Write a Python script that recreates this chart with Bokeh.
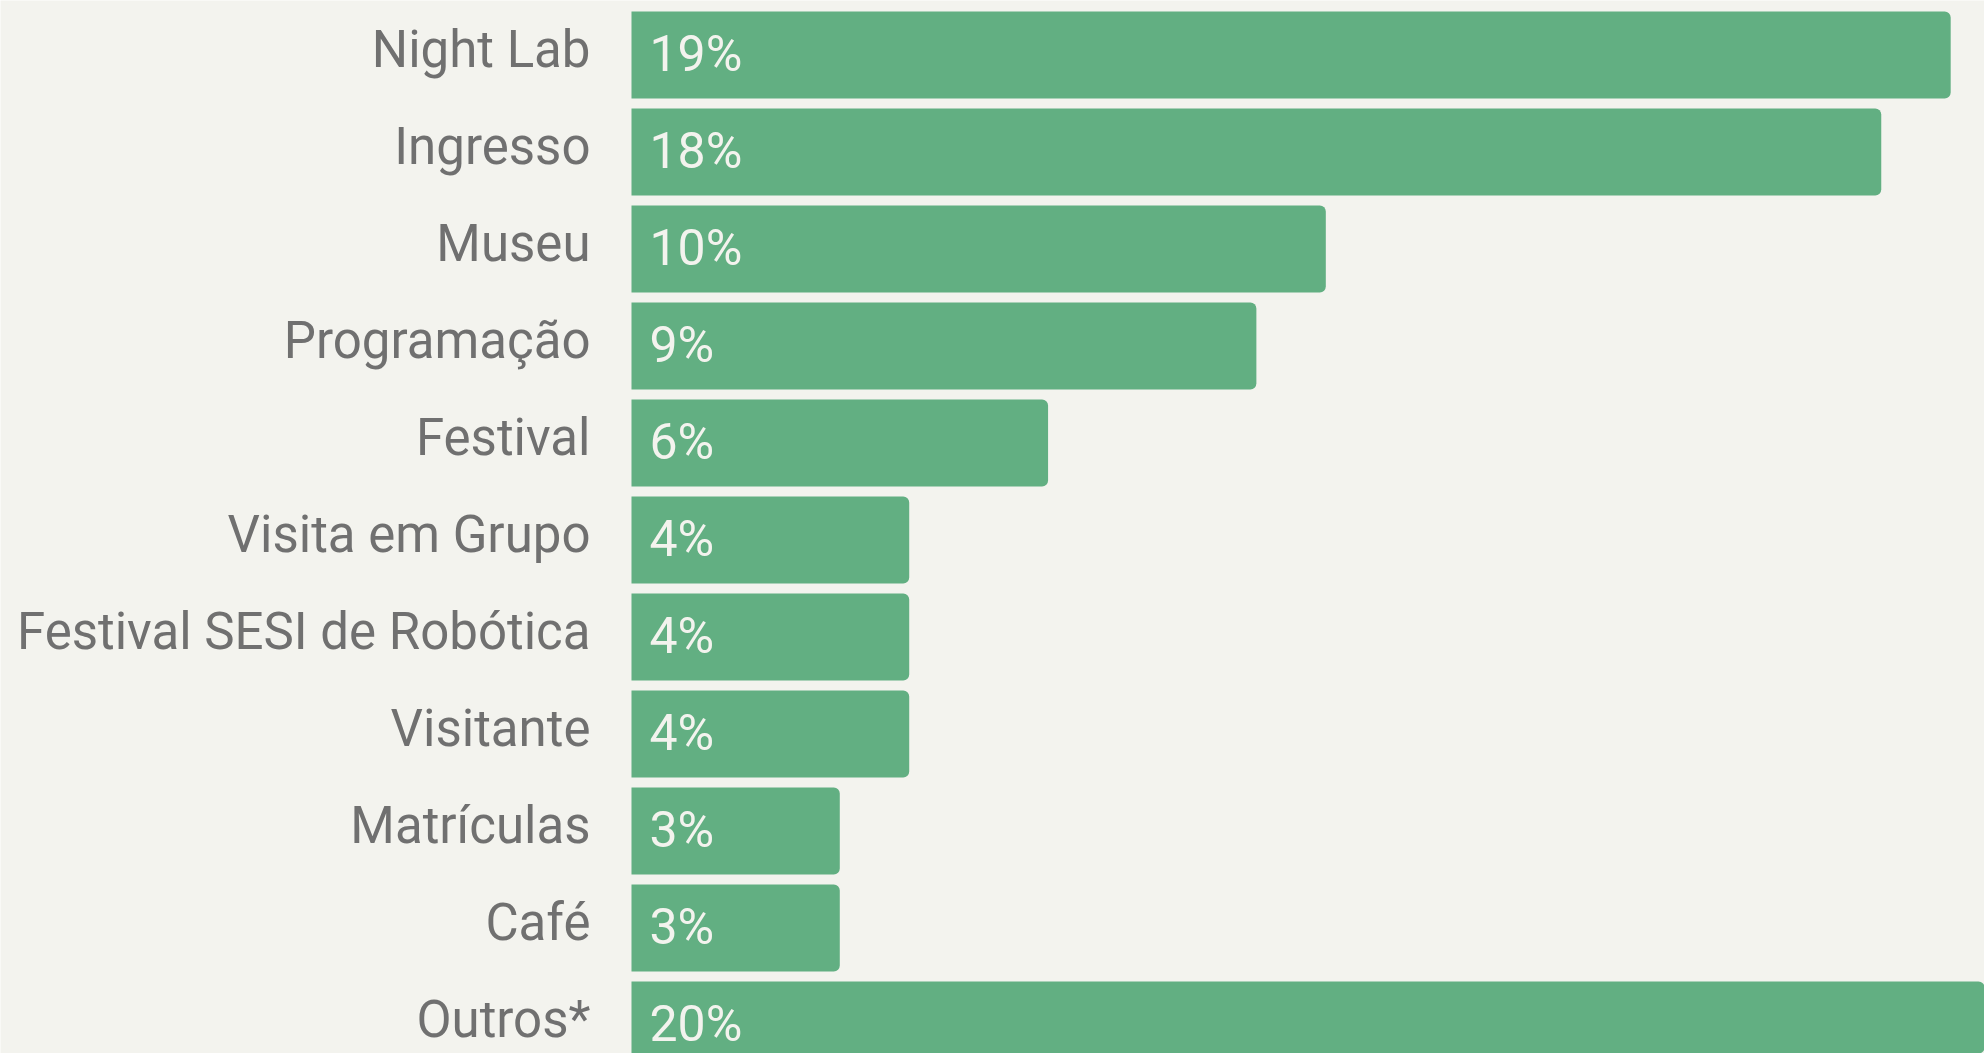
from bokeh.plotting import figure
from bokeh.models import ColumnDataSource, Range1d
from bokeh.core.properties import value
from bokeh.embed import file_html
from bokeh.resources import INLINE

categories = ["Night Lab", "Ingresso", "Museu", "Programação", "Festival",
              "Visita em Grupo", "Festival SESI de Robótica", "Visitante",
              "Matrículas", "Café", "Outros*"]
shares = [19, 18, 10, 9, 6, 4, 4, 4, 3, 3, 20]
value_labels = [f"{v}%" for v in shares]

n = len(categories)
ypos = [n - i - 0.5 for i in range(n)]
zeros = [0] * n

src = ColumnDataSource(dict(cat=categories, val=shares, lab=value_labels, y=ypos, x0=zeros))

FONT = "Roboto"
BG = "#F3F3EE"
GREEN = "#62AF82"

p = figure(width=1984, height=1053, output_backend="svg", toolbar_location=None,
           x_range=Range1d(-9.088, 19.487), y_range=Range1d(0.2062, 11.0619),
           x_axis_location=None, y_axis_location=None, min_border=0,
           background_fill_color=BG, border_fill_color=BG, outline_line_color=None)
p.xgrid.visible = False
p.ygrid.visible = False

p.hbar(y="y", left=0, right="val", height=0.897, source=src, fill_color=GREEN,
       line_color=None, border_radius=(0, 6, 6, 0))

p.text(x="x0", y="y", text="cat", source=src, x_offset=-41, y_offset=-6,
       text_align="right", text_baseline="middle", text_font=value(FONT),
       text_font_size="51px", text_color="#707070")

p.text(x="x0", y="y", text="lab", source=src, x_offset=18, y_offset=-1,
       text_align="left", text_baseline="middle", text_font=value(FONT),
       text_font_size="50px", text_color=BG)

open("out.html", "w").write(file_html(p, INLINE))
